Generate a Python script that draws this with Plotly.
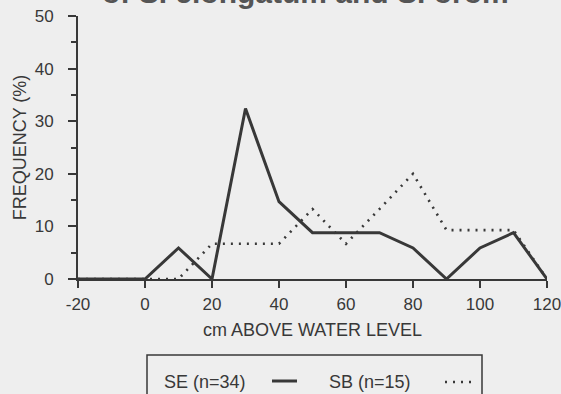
import plotly.graph_objects as go

# ---- data ----
heights = [-20, -10, 0, 10, 20, 30, 40, 50, 60, 70, 80, 90, 100, 110, 120]
se_freq = [0, 0, 0, 5.9, 0, 32.4, 14.7, 8.8, 8.8, 8.8, 5.9, 0, 5.9, 8.8, 0]
sb_freq = [0, 0, 0, 0, 6.7, 6.7, 6.7, 13.3, 6.7, 13.3, 20.0, 9.3, 9.3, 9.3, 0]
x_ticks = [-20, 0, 20, 40, 60, 80, 100, 120]
x_tick_text = ["-20", "0", "20", "40", "60", "80", "100", "120"]
y_ticks = [0, 10, 20, 30, 40, 50]
se_label = "SE (n=34)"
sb_label = "SB (n=15)"

INK = "#383838"
BG = "#eeeeee"
FONT = "Liberation Sans, Arial, sans-serif"

W, H = 561, 394
L, R, T, B = 78, 14, 16, 115
PW, PH = W - L - R, H - T - B


def px(x):
    return (x - L) / PW


def py(y):
    return (H - B - y) / PH


fig = go.Figure()
fig.add_trace(go.Scatter(x=heights, y=sb_freq, mode="lines",
                         line=dict(color=INK, width=2.6, dash="2px,6px"),
                         showlegend=False, hoverinfo="skip"))
fig.add_trace(go.Scatter(x=heights, y=se_freq, mode="lines",
                         line=dict(color=INK, width=3),
                         showlegend=False, hoverinfo="skip"))

fig.update_layout(
    width=W, height=H,
    margin=dict(l=L, r=R, t=T, b=B),
    paper_bgcolor=BG, plot_bgcolor=BG,
    font=dict(family=FONT, color=INK, size=17),
    xaxis=dict(range=[-20, 120], tickvals=x_ticks, ticktext=x_tick_text,
               automargin=False,
               showgrid=False, zeroline=False, showline=True,
               linecolor=INK, linewidth=2, ticks="outside", ticklen=7,
               tickwidth=1.5, tickcolor=INK, ticklabelstandoff=2,
               ticklabeloverflow="allow",
               tickfont=dict(size=17),
               title=dict(text="cm ABOVE WATER LEVEL", standoff=10,
                          font=dict(size=18))),
    yaxis=dict(range=[0, 50], tickvals=y_ticks,
               automargin=False,
               showgrid=False, zeroline=False, showline=True,
               linecolor=INK, linewidth=2, ticks="outside", ticklen=8,
               tickwidth=1.5, tickcolor=INK, ticklabelstandoff=11,
               tickfont=dict(size=17),
               minor=dict(dtick=5, ticks="outside", ticklen=5,
                          tickwidth=1.5, tickcolor=INK, showgrid=False),
               title=dict(text="FREQUENCY (%)", standoff=3,
                          font=dict(size=18))),
)

# partially visible heading at the top edge
fig.add_annotation(text="<b>of S. elongatum and S. orom</b>", xref="paper", yref="paper",
                   x=px(100), y=py(11), xanchor="left", yanchor="bottom",
                   showarrow=False, font=dict(size=30, color="#555555", family=FONT))

# legend box (extends below the page)
fig.add_shape(type="rect", xref="paper", yref="paper",
              x0=px(147), x1=px(482), y0=py(410), y1=py(355),
              line=dict(color=INK, width=1.5), fillcolor="rgba(0,0,0,0)")
fig.add_annotation(text=se_label, xref="paper", yref="paper", x=px(162), y=py(382),
                   xanchor="left", yanchor="middle", showarrow=False,
                   font=dict(size=18, color=INK))
fig.add_shape(type="line", xref="paper", yref="paper",
              x0=px(272), x1=px(297), y0=py(381), y1=py(381),
              line=dict(color=INK, width=3))
fig.add_annotation(text=sb_label, xref="paper", yref="paper", x=px(327), y=py(382),
                   xanchor="left", yanchor="middle", showarrow=False,
                   font=dict(size=18, color=INK))
fig.add_shape(type="line", xref="paper", yref="paper",
              x0=px(445), x1=px(474), y0=py(382), y1=py(382),
              line=dict(color=INK, width=2.6, dash="2px,6px"))

fig.write_html("out.html",
               config={"displayModeBar": False},
               post_script="document.body.style.margin='0';"
                           "document.body.style.overflow='hidden';")
